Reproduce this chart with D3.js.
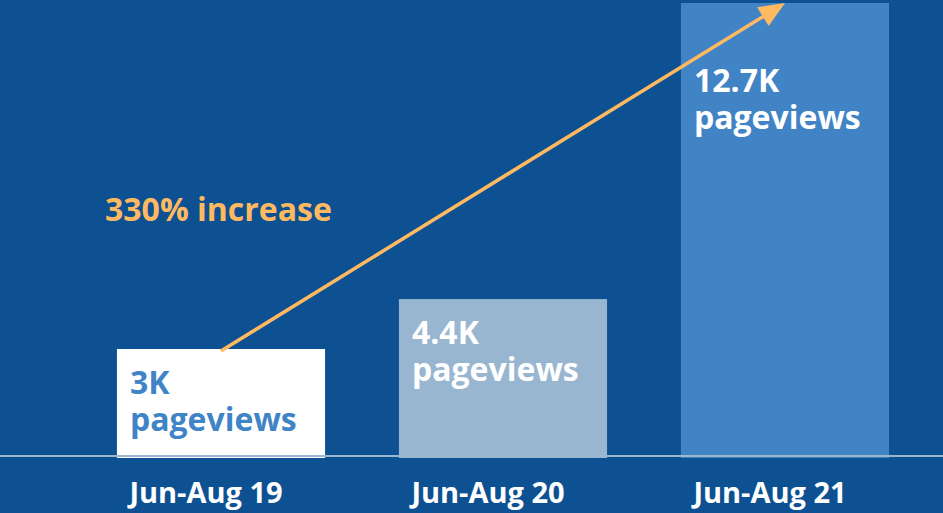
<html><head>
<meta charset="UTF-8">
<title>Pageviews Jun-Aug</title>
<script src="https://cdn.jsdelivr.net/npm/d3@7"></script>
<style>
  body { margin: 0; background: #0d5192; }
  svg { display: block; font-family: "Open Sans", sans-serif; font-weight: 700; }
</style>
</head>
<body>
<div id="chart"></div>
<script>
const categories = ['Jun-Aug 19', 'Jun-Aug 20', 'Jun-Aug 21'];
const values = [3, 4.4, 12.7];
const valueLabels = ['3K', '4.4K', '12.7K'];
const barColors = ['#ffffff', '#99b6d1', '#4184c6'];
const labelColors = ['#3f84c6', '#ffffff', '#ffffff'];
const increaseLabel = '330% increase';

const width = 943, height = 513;
const baseY = 456;

const svg = d3.select('#chart').append('svg')
    .attr('width', width)
    .attr('height', height);

svg.append('rect')
    .attr('width', width).attr('height', height)
    .attr('fill', '#0d5192');

const x = d3.scaleBand()
    .domain(categories)
    .range([80, 926])
    .paddingInner(0.262)
    .paddingOuter(0.131);

const y = d3.scaleLinear()
    .domain([0, 12.7])
    .range([baseY, 3]);

// bars
svg.selectAll('.bar')
  .data(values)
  .enter().append('rect')
    .attr('class', 'bar')
    .attr('x', (d, i) => x(categories[i]))
    .attr('y', d => y(d))
    .attr('width', x.bandwidth())
    .attr('height', d => baseY - y(d) + 2)
    .attr('fill', (d, i) => barColors[i]);

// baseline
svg.append('line')
    .attr('x1', 0).attr('x2', width)
    .attr('y1', baseY).attr('y2', baseY)
    .attr('stroke', '#9ab6d0')
    .attr('stroke-width', 2);

// value labels inside bars, two lines each
svg.selectAll('.val')
  .data(values)
  .enter().append('text')
    .attr('class', 'val')
    .attr('x', (d, i) => x(categories[i]) + 13)
    .attr('y', d => Math.max(y(d), 47) + 45)
    .attr('fill', (d, i) => labelColors[i])
    .attr('font-size', 32)
    .text((d, i) => valueLabels[i]);

svg.selectAll('.pv')
  .data(values)
  .enter().append('text')
    .attr('class', 'pv')
    .attr('x', (d, i) => x(categories[i]) + 13)
    .attr('y', d => Math.max(y(d), 47) + 82)
    .attr('fill', (d, i) => labelColors[i])
    .attr('font-size', 32)
    .text('pageviews');

// category labels
svg.selectAll('.cat')
  .data(categories)
  .enter().append('text')
    .attr('class', 'cat')
    .attr('x', d => x(d) + x.bandwidth() / 2 - 15)
    .attr('y', 503)
    .attr('text-anchor', 'middle')
    .attr('fill', '#ffffff')
    .attr('font-size', 29)
    .text(d => d);

// increase arrow
const x0 = x(categories[0]) + x.bandwidth() / 2, y0 = y(values[0]) + 2;
const x1 = x(categories[2]) + x.bandwidth() / 2, y1 = y(values[2]);
const ang = Math.atan2(y1 - y0, x1 - x0);
const headLen = 26, headW = 11;
const bx = x1 - headLen * Math.cos(ang), by = y1 - headLen * Math.sin(ang);

svg.append('line')
    .attr('x1', x0).attr('y1', y0)
    .attr('x2', bx + 4 * Math.cos(ang)).attr('y2', by + 4 * Math.sin(ang))
    .attr('stroke', '#ffb961')
    .attr('stroke-width', 3.5);

svg.append('path')
    .attr('d', `M${x1},${y1}L${bx - headW * Math.sin(ang)},${by + headW * Math.cos(ang)}L${bx + headW * Math.sin(ang)},${by - headW * Math.cos(ang)}Z`)
    .attr('fill', '#ffb961');

svg.append('text')
    .attr('x', 105)
    .attr('y', 221)
    .attr('fill', '#ffb961')
    .attr('font-size', 32)
    .text(increaseLabel);
</script>
</body></html>
